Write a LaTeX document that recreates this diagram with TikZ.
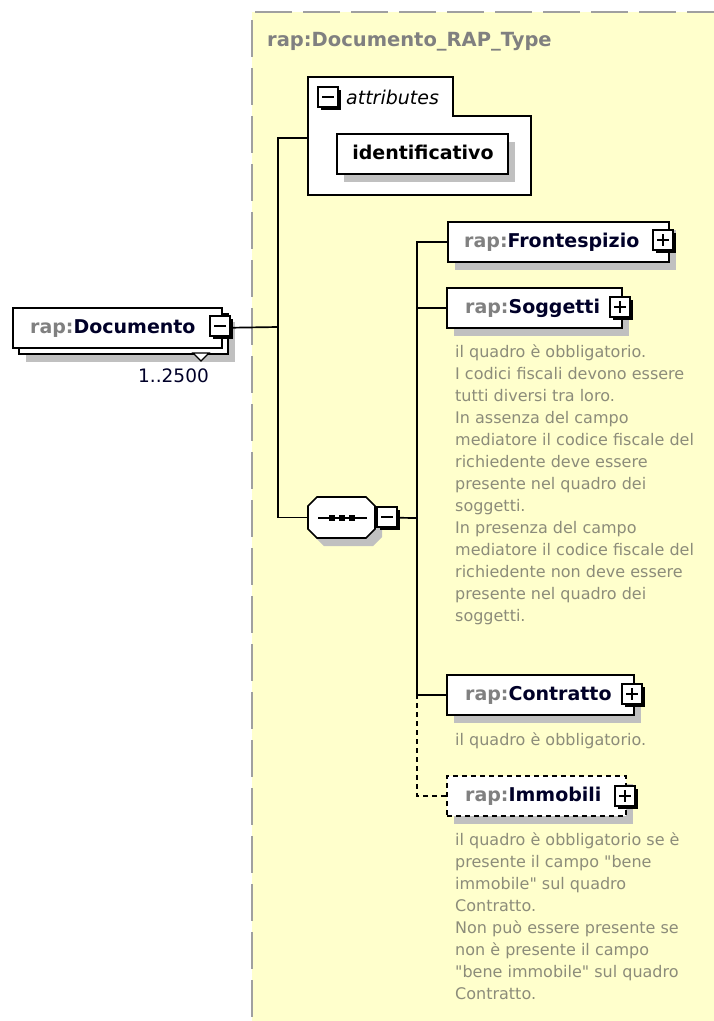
\documentclass[tikz,border=0pt]{standalone}
\usepackage{fontspec}
\setmainfont{DejaVu Sans}
\setmonofont{DejaVu Sans}
\usetikzlibrary{shadows,calc}
\definecolor{bgyellow}{RGB}{255,255,204}
\definecolor{bordergray}{RGB}{160,160,160}
\definecolor{shadowgray}{RGB}{192,192,192}
\definecolor{prefixgray}{RGB}{128,128,128}
\definecolor{notegray}{RGB}{140,140,122}
\definecolor{namecol}{RGB}{0,0,40}
\newcommand{\pmicon}[3]{%
  \fill[black] (#1-8,#2-8) rectangle (#1+12,#2+12);
  \filldraw[fill=white,draw=black,line width=1.5pt] (#1-11,#2-11) rectangle (#1+9,#2+9);
  \draw[line width=1.8pt] (#1-7,#2-1) -- (#1+5,#2-1);
  \ifnum#3=1 \draw[line width=1.8pt] (#1-1,#2-7) -- (#1-1,#2+5);\fi
}
\newcommand{\pfx}{\textcolor{prefixgray}{rap:}}
\newcommand{\dq}{{\ttfamily"}}
\tikzset{
  shd/.style={drop shadow={shadow xshift=7pt,shadow yshift=-8pt,fill=shadowgray,opacity=1}},
  elembox/.style={draw=black,fill=white,line width=1.7pt,inner sep=0,anchor=north west,minimum height=40pt},
  lbl/.style={font=\fontsize{19}{22}\selectfont\bfseries,text=namecol,inner sep=0,anchor=base west},
  note/.style={font=\fontsize{16}{22}\selectfont,text=notegray,inner sep=0,anchor=base west},
  conn/.style={line width=1.7pt},
  optconn/.style={line width=1.7pt,dash pattern=on 5pt off 4pt},
}
\begin{document}
\begin{tikzpicture}[x=1pt,y=-1pt]
\useasboundingbox (0,0) rectangle (714,1021);
% complex type area
\fill[bgyellow] (252,12) rectangle (714,1021);
\draw[bordergray,line width=2pt,dash pattern=on 37pt off 11pt] (255,12) -- (714,12);
\draw[bordergray,line width=2pt,dash pattern=on 37pt off 11pt] (252,20) -- (252,1021);
\node[font=\fontsize{19.5}{22}\selectfont\bfseries,text=prefixgray,inner sep=0,anchor=base west] (title) at (267,46) {rap:Documento\_RAP\_Type};

% attributes group
\draw[fill=white,line width=1.7pt] (308,77) -- (453,77) -- (453,116) -- (531,116) -- (531,195) -- (308,195) -- cycle;
\coordinate (attrW) at (308,138);
\node[font=\fontsize{19}{22}\selectfont\itshape,inner sep=0,anchor=base west] (attrlbl) at (346,104) {attributes};
\node[elembox,shd,minimum width=171pt] (ident) at (336,133) {};
\node[font=\fontsize{19}{22}\selectfont\bfseries,inner sep=0,anchor=base] (identlbl) at (423,159) {identificativo};

% root element
\node[elembox,shd,minimum width=209pt] (docback) at (18,313) {};
\node[elembox,minimum width=209pt] (docfront) at (12,307) {};
\node[lbl] (doclbl) at (30,333) {\pfx Documento};
\filldraw[fill=white,draw=black,line width=1.2pt] (193,353) -- (209,353) -- (201,361) -- cycle;
\node[font=\fontsize{18.5}{22}\selectfont,text=namecol,inner sep=0,anchor=base west] (occ) at (138,382) {1..2500};

% sequence compositor
\fill[shadowgray] (324,505) -- (373,505) -- (382,514) -- (382,537) -- (373,546) -- (324,546) -- (315,537) -- (315,514) -- cycle;
\filldraw[fill=white,draw=black,line width=1.7pt] (317,497) -- (366,497) -- (375,506) -- (375,529) -- (366,538) -- (317,538) -- (308,529) -- (308,506) -- cycle;
\node[inner sep=0,minimum width=67pt,minimum height=41pt] (seq) at (341.5,517.5) {};
\draw[line width=1.7pt] (318,518) -- (367,518);
\foreach \sx in {332,342,352} \fill[black] (\sx-3,515) rectangle (\sx+3,521);

% child elements
\node[elembox,shd,minimum width=221pt] (front) at (447,221) {};
\node[lbl] (frontlbl) at (464,247) {\pfx Frontespizio};
\node[elembox,shd,minimum width=175pt] (sogg) at (446,287) {};
\node[lbl] (sogglbl) at (465,313) {\pfx Soggetti};
\node[elembox,shd,minimum width=187pt] (contr) at (446,674) {};
\node[lbl] (contrlbl) at (465,700) {\pfx Contratto};
\node[elembox,shd,minimum width=179pt,dash pattern=on 5pt off 4pt] (immo) at (446,775) {};
\node[lbl] (immolbl) at (465,801) {\pfx Immobili};

% annotations
\node[note] (soggnote) at (455,357) {\begin{tabular}[t]{@{}l@{}}il quadro è obbligatorio.\\ I codici fiscali devono essere\\ tutti diversi tra loro.\\ In assenza del campo\\ mediatore il codice fiscale del\\ richiedente deve essere\\ presente nel quadro dei\\ soggetti.\\ In presenza del campo\\ mediatore il codice fiscale del\\ richiedente non deve essere\\ presente nel quadro dei\\ soggetti.\end{tabular}};
\node[note] (contrnote) at (455,745) {il quadro è obbligatorio.};
\node[note] (immonote) at (455,845) {\begin{tabular}[t]{@{}l@{}}il quadro è obbligatorio se è\\ presente il campo \dq bene\\ immobile\dq{} sul quadro\\ Contratto.\\ Non può essere presente se\\ non è presente il campo\\ \dq bene immobile\dq{} sul quadro\\ Contratto.\end{tabular}};

% connectors
\coordinate (trunkA) at (278,327);
\coordinate (trunkB) at (417,518);
\coordinate (trunkC) at (417,694);
\draw[conn] (docfront.east) -- (trunkA);
\draw[conn] (attrW) -| (trunkA);
\draw[conn] (seq.west) -| (trunkA);
\draw[conn] (seq.east) -- (trunkB);
\draw[conn] (front.west) -| (trunkB);
\draw[conn] (sogg.west) -| (trunkB);
\draw[conn] (contr.west) -| (trunkB);
\draw[optconn] (immo.west) -| (trunkC);

% expand/collapse icons
\pmicon{329}{98}{0}
\pmicon{221}{327}{0}
\pmicon{388}{518}{0}
\pmicon{664}{241}{1}
\pmicon{621}{308}{1}
\pmicon{633}{695}{1}
\pmicon{626}{797}{1}
\end{tikzpicture}
\end{document}
